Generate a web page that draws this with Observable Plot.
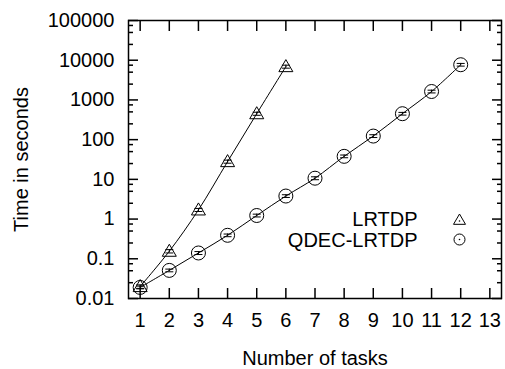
<!DOCTYPE html>
<html><head><meta charset="utf-8">
<script src="https://cdn.jsdelivr.net/npm/d3@7"></script>
<script src="https://cdn.jsdelivr.net/npm/@observablehq/plot@0.6"></script>
<style>
html,body{margin:0;padding:0;background:#fff;}
</style></head><body><div id="chart"></div>
<script>
// ---- data ----
const seriesNames = ["LRTDP", "QDEC-LRTDP"];
const lrtdpTasks = [1, 2, 3, 4, 5, 6];
const lrtdpTime  = [0.020, 0.155, 1.7, 28, 450, 6900];
const lrtdpLow   = [0.018, 0.140, 1.55, 25.5, 410, 6300];
const lrtdpHigh  = [0.022, 0.170, 1.85, 30.5, 490, 7500];
const qdecTasks = [1, 2, 3, 4, 5, 6, 7, 8, 9, 10, 11, 12];
const qdecTime  = [0.019, 0.051, 0.14, 0.39, 1.23, 3.8, 10.7, 38, 123, 450, 1630, 7700];
const qdecLow   = [0.0175, 0.047, 0.128, 0.36, 1.13, 3.5, 9.8, 35, 113, 415, 1500, 7100];
const qdecHigh  = [0.0205, 0.055, 0.152, 0.42, 1.33, 4.1, 11.6, 41, 133, 485, 1760, 8300];
const xTicks = [1, 2, 3, 4, 5, 6, 7, 8, 9, 10, 11, 12, 13];
const yTicks = [0.01, 0.1, 1, 10, 100, 1000, 10000, 100000];
const yTickLabels = ["0.01", "0.1", "1", "10", "100", "1000", "10000", "100000"];
const xTitle = "Number of tasks";
const yTitle = "Time in seconds";

// ---- tables ----
const lr = lrtdpTasks.map((t, i) => ({task: t, time: lrtdpTime[i], lo: lrtdpLow[i], hi: lrtdpHigh[i]}));
const qd = qdecTasks.map((t, i) => ({task: t, time: qdecTime[i], lo: qdecLow[i], hi: qdecHigh[i]}));
const minorTicks = yTicks.slice(0, -1).flatMap(d => [2.5 * d, 5 * d, 7.5 * d]);
const yLabel = d => yTickLabels[yTicks.findIndex(v => Math.abs(v - d) / v < 1e-9)] ?? "";

const triangle = {draw(ctx, size) {
  const r = Math.sqrt(size / Math.PI);
  ctx.moveTo(0, -r); ctx.lineTo(r, 0.72 * r); ctx.lineTo(-r, 0.72 * r); ctx.closePath();
}};
const hDash = {draw(ctx, size) {
  const r = Math.sqrt(size / Math.PI);
  ctx.moveTo(-r, 0); ctx.lineTo(r, 0);
}};
const none = () => "";
const K = "black";

const chart = Plot.plot({
  width: 505, height: 369,
  marginLeft: 128, marginRight: 4, marginTop: 20, marginBottom: 71,
  style: {fontFamily: "'Liberation Sans', Arial, Helvetica, sans-serif", fontSize: "20px", background: "#fff", color: "#000", overflow: "visible"},
  x: {type: "linear", domain: [0.6, 13.4], label: null},
  y: {type: "log", domain: [0.01, 100000], label: null},
  marks: [
    // axes: labels
    Plot.axisX(xTicks, {anchor: "bottom", tickSize: 0, tickPadding: 14, label: null, tickFormat: d => String(d)}),
    Plot.axisY(yTicks, {anchor: "left", tickSize: 0, tickPadding: 14, label: null, tickFormat: yLabel}),
    // inward ticks
    Plot.axisX(xTicks, {anchor: "bottom", tickSize: 10, insetBottom: 10, tickFormat: none, label: null, strokeWidth: 1.5}),
    Plot.axisX(xTicks, {anchor: "top", tickSize: 10, insetTop: 10, tickFormat: none, label: null, strokeWidth: 1.5}),
    Plot.axisY(yTicks, {anchor: "left", tickSize: 10, insetLeft: 10, tickFormat: none, label: null, strokeWidth: 1.5}),
    Plot.axisY(yTicks, {anchor: "right", tickSize: 10, insetRight: 10, tickFormat: none, label: null, strokeWidth: 1.5}),
    Plot.axisY(minorTicks, {anchor: "left", tickSize: 5, insetLeft: 5, tickFormat: none, label: null, strokeWidth: 1.5}),
    Plot.axisY(minorTicks, {anchor: "right", tickSize: 5, insetRight: 5, tickFormat: none, label: null, strokeWidth: 1.5}),
    Plot.frame({stroke: K, strokeWidth: 1.5}),
    // titles
    Plot.text([yTitle], {frameAnchor: "left", dx: -107, rotate: -90, textAnchor: "middle", lineAnchor: "middle", text: d => d, fill: K}),
    Plot.text([xTitle], {frameAnchor: "bottom", dy: 60, textAnchor: "middle", lineAnchor: "middle", text: d => d, fill: K}),
    // lines
    Plot.line(lr, {x: "task", y: "time", curve: "catmull-rom", stroke: K, strokeWidth: 1}),
    Plot.line(qd, {x: "task", y: "time", curve: "catmull-rom", stroke: K, strokeWidth: 1}),
    // error bars
    Plot.ruleX(lr, {x: "task", y1: "lo", y2: "hi", stroke: K, strokeWidth: 1}),
    Plot.ruleX(qd, {x: "task", y1: "lo", y2: "hi", stroke: K, strokeWidth: 1}),
    Plot.dot(lr, {x: "task", y: "lo", symbol: hDash, r: 4, stroke: K, strokeWidth: 1}),
    Plot.dot(lr, {x: "task", y: "hi", symbol: hDash, r: 4, stroke: K, strokeWidth: 1}),
    Plot.dot(qd, {x: "task", y: "lo", symbol: hDash, r: 4, stroke: K, strokeWidth: 1}),
    Plot.dot(qd, {x: "task", y: "hi", symbol: hDash, r: 4, stroke: K, strokeWidth: 1}),
    // markers
    Plot.dot(lr, {x: "task", y: "time", symbol: triangle, r: 7, stroke: K, fill: "none", strokeWidth: 1}),
    Plot.dot(qd, {x: "task", y: "time", symbol: "circle", r: 7, stroke: K, fill: "none", strokeWidth: 1}),
    // legend
    Plot.text([seriesNames[0]], {frameAnchor: "top-right", dx: -84, dy: 199.5, textAnchor: "end", lineAnchor: "middle", text: d => d, fill: K}),
    Plot.text([seriesNames[1]], {frameAnchor: "top-right", dx: -84, dy: 220, textAnchor: "end", lineAnchor: "middle", text: d => d, fill: K}),
    Plot.dot([seriesNames[0]], {frameAnchor: "top-right", dx: -42, dy: 199.5, symbol: triangle, r: 6, stroke: K, fill: "none", strokeWidth: 1}),
    Plot.dot([seriesNames[1]], {frameAnchor: "top-right", dx: -42, dy: 219, symbol: "circle", r: 5.5, stroke: K, fill: "none", strokeWidth: 1}),
    Plot.dot([seriesNames[0]], {frameAnchor: "top-right", dx: -42, dy: 200.5, r: 0.8, fill: K}),
    Plot.dot([seriesNames[1]], {frameAnchor: "top-right", dx: -42, dy: 219, r: 0.8, fill: K})
  ]
});
document.getElementById("chart").appendChild(chart);
</script>
</body></html>
